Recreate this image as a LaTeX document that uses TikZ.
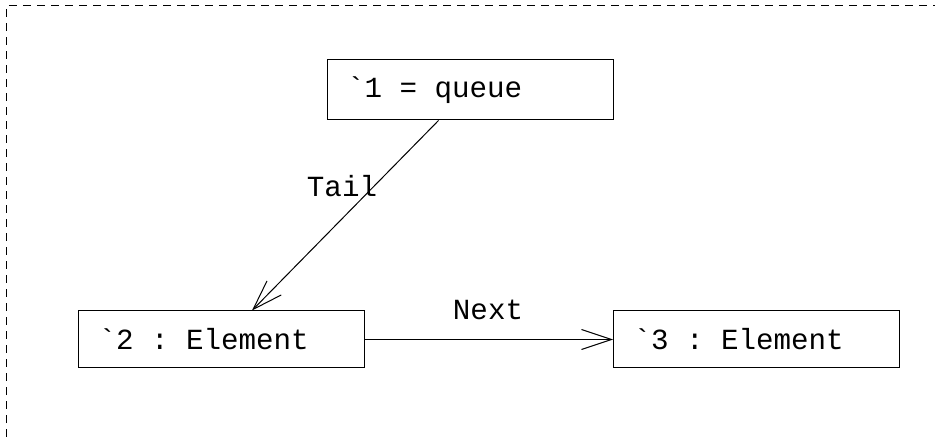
\documentclass[tikz,border=0pt]{standalone}
\usepackage{fontspec}
\setmonofont{Liberation Mono}
\usetikzlibrary{arrows.meta}
\newcommand{\monofnt}{\ttfamily\fontsize{14.6pt}{17pt}\selectfont}
\newcommand{\msp}{\hbox to 0.6em{}}
\begin{document}
\begin{tikzpicture}[x=0.5pt,y=-0.5pt,
  every node/.style={font=\monofnt},
  obj/.style={draw,line width=0.5pt,rectangle,minimum width=143pt,minimum height=28.5pt,
    text width=123pt,align=left,inner xsep=10pt,inner ysep=0pt},
  conn/.style={line width=0.5pt,-{Straight Barb[length=15pt,width=10pt,line width=0.5pt]}},
  lbl/.style={inner sep=0pt}]
\useasboundingbox (0,0) rectangle (935,437);
\draw[line width=0.5pt,dash pattern=on 4pt off 3pt] (6,437) -- (6,6) -- (935,6);
\node[obj,minimum width=142pt,minimum height=30pt] (b1) at (470,90) {\symbol{96}1\msp=\msp{}queue};
\node[obj] (b2) at (221.5,339.5) {\symbol{96}2\msp:\msp{}Element};
\node[obj] (b3) at (756.5,339.5) {\symbol{96}3\msp:\msp{}Element};
\draw[conn] ([xshift=56pt]b1.south west) -- ([xshift=87pt]b2.north west);
\draw[conn] (b2.east) -- (b3.west);
\node[lbl] (tail) at (342,186) {Tail};
\node[lbl] (next) at (488,310) {Next};
\end{tikzpicture}
\end{document}
